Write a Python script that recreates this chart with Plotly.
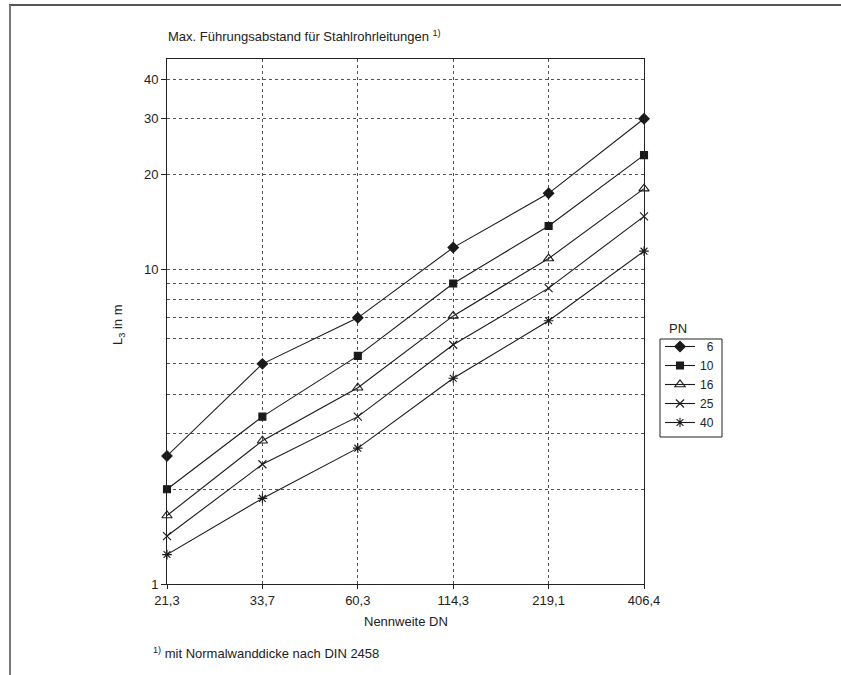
import plotly.graph_objects as go

# ---- data ----
dn_labels = ["21,3", "33,7", "60,3", "114,3", "219,1", "406,4"]
pn_names = ["6", "10", "16", "25", "40"]
pn6 = [2.55, 5.0, 7.0, 11.7, 17.4, 30.0]
pn10 = [2.0, 3.4, 5.3, 9.0, 13.7, 23.0]
pn16 = [1.65, 2.85, 4.2, 7.1, 10.8, 18.0]
pn25 = [1.42, 2.4, 3.4, 5.75, 8.7, 14.7]
pn40 = [1.24, 1.87, 2.7, 4.5, 6.85, 11.4]
series = [pn6, pn10, pn16, pn25, pn40]
y_major_ticks = [1, 10, 20, 30, 40]
y_major_text = ["1", "10", "20", "30", "40"]
y_minor_ticks = [2, 3, 4, 5, 6, 7, 8, 9]

# ---- styles ----
W, H = 841, 675
L, R, T, B = 167, 644, 59, 584
FONT = "Liberation Sans, Arial, sans-serif"
FS = 13
symbols = ["diamond", "square", "triangle-up-open", "x-thin-open", "asterisk-open"]
sizes = [8, 7, 9, 8, 8]

def px(x):
    return (x - L) / (R - L)

def py(y):
    return (B - y) / (B - T)

def right_align(label, width=2):
    # pad with two no-break spaces per missing digit so numbers line up right
    return "&nbsp;&nbsp;" * (width - len(label)) + label

fig = go.Figure()
for name, vals, sym, sz in zip(pn_names, series, symbols, sizes):
    fig.add_trace(go.Scatter(
        x=dn_labels, y=vals, name=right_align(name), mode="lines+markers",
        cliponaxis=False,
        line=dict(color="#1a1a1a", width=1.1),
        marker=dict(symbol=sym, size=sz, color="#1a1a1a",
                    line=dict(color="#1a1a1a", width=1.1)),
    ))

fig.update_layout(
    width=W, height=H,
    margin=dict(l=L, r=W - R, t=T, b=H - B),
    paper_bgcolor="white", plot_bgcolor="white",
    font=dict(family=FONT, size=FS, color="#222"),
    showlegend=True,
    legend=dict(x=px(660), y=py(332), xanchor="left", yanchor="top",
                borderwidth=0, bgcolor="rgba(0,0,0,0)",
                font=dict(size=12), itemwidth=30, tracegroupgap=0),
    xaxis=dict(
        type="category", range=[0, len(dn_labels) - 1],
        showline=True, linecolor="#222", linewidth=1, mirror=True,
        ticks="outside", ticklen=4, tickcolor="#222",
        showgrid=True, gridcolor="#555", griddash="dot", gridwidth=1,
        tickfont=dict(size=FS), zeroline=False,
    ),
    yaxis=dict(
        type="log", range=[0, 1.667],
        tickvals=y_major_ticks, ticktext=y_major_text,
        showline=True, linecolor="#222", linewidth=1, mirror=True,
        ticks="outside", ticklen=5, tickcolor="#222",
        showgrid=True, gridcolor="#555", griddash="dot", gridwidth=1,
        minor=dict(tickvals=y_minor_ticks, showgrid=True, gridcolor="#555",
                   griddash="dot", gridwidth=1, ticklen=0),
        tickfont=dict(size=FS), zeroline=False,
    ),
)

annotations = [
    dict(text="Max. Führungsabstand für Stahlrohrleitungen <sup>1)</sup>",
         x=px(166), y=py(36), xanchor="left", yanchor="middle", font=dict(size=FS)),
    dict(text="L<sub>3</sub> in m", x=px(119), y=py(325), xanchor="center",
         yanchor="middle", textangle=-90, font=dict(size=FS)),
    dict(text="Nennweite DN", x=px(406), y=py(621), xanchor="center",
         yanchor="middle", font=dict(size=FS)),
    dict(text="<sup>1)</sup> mit Normalwanddicke nach DIN 2458", x=px(151), y=py(653),
         xanchor="left", yanchor="middle", font=dict(size=FS)),
    dict(text="PN", x=px(667), y=py(328), xanchor="left", yanchor="middle",
         font=dict(size=FS)),
]
for a in annotations:
    a.update(xref="paper", yref="paper", showarrow=False)
fig.update_layout(annotations=annotations)

# legend frame
fig.add_shape(type="rect", xref="paper", yref="paper",
              x0=px(660), x1=px(722), y0=py(339), y1=py(437),
              line=dict(color="#222", width=1), layer="below",
              fillcolor="white")
# page frame
fig.add_shape(type="line", xref="paper", yref="paper",
              x0=px(9), x1=px(841), y0=py(5), y1=py(5),
              line=dict(color="#555", width=2))
fig.add_shape(type="line", xref="paper", yref="paper",
              x0=px(10), x1=px(10), y0=py(5), y1=py(675),
              line=dict(color="#777", width=2))

fig.write_html("out.html")
